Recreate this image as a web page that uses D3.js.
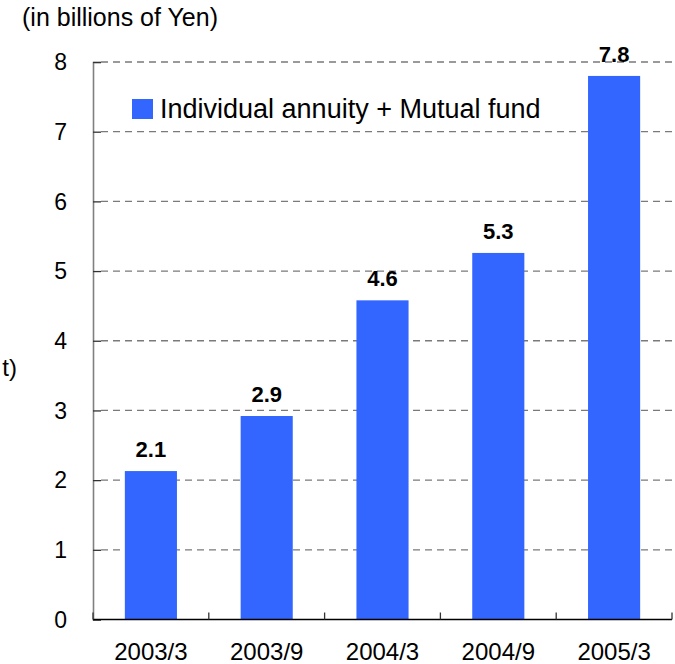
<!DOCTYPE html>
<html>
<head>
<meta charset="utf-8">
<script src="https://cdn.jsdelivr.net/npm/d3@7"></script>
<style>
  body { margin: 0; background: #fff; }
  text { font-family: "Liberation Sans", Arial, sans-serif; fill: #000; }
</style>
</head>
<body>
<div id="chart"></div>
<script>
// chart data
var categories = ["2003/3", "2003/9", "2004/3", "2004/9", "2005/3"];
var values     = [2.13, 2.92, 4.58, 5.26, 7.8];
var valueLabels = ["2.1", "2.9", "4.6", "5.3", "7.8"];
var yTicks     = [0, 1, 2, 3, 4, 5, 6, 7, 8];
var seriesName = "Individual annuity + Mutual fund";

var width = 675, height = 664;
var plotLeft = 93, plotRight = 672, plotTop = 62, plotBottom = 619.5;

var svg = d3.select("#chart").append("svg")
    .attr("width", width)
    .attr("height", height);

var x = d3.scaleBand().domain(categories).range([plotLeft, plotRight])
    .paddingInner(0.55).paddingOuter(0.275);
var xCell = d3.scaleBand().domain(categories).range([plotLeft, plotRight]);
var y = d3.scaleLinear().domain([0, 8]).range([plotBottom, plotTop]);

// dashed gridlines
svg.selectAll(".grid")
    .data(yTicks.filter(function(d) { return d > 0; }))
    .enter().append("line")
    .attr("x1", plotLeft + 8).attr("x2", plotRight)
    .attr("y1", function(d) { return y(d); })
    .attr("y2", function(d) { return y(d); })
    .attr("stroke", "#7a7a7a")
    .attr("stroke-width", 1.3)
    .attr("stroke-dasharray", "7,5");

// bars
svg.selectAll(".bar")
    .data(values)
    .enter().append("rect")
    .attr("x", function(d, i) { return x(categories[i]); })
    .attr("width", x.bandwidth())
    .attr("y", function(d) { return y(d); })
    .attr("height", function(d) { return y(0) - y(d); })
    .attr("fill", "#3366FF");

// value labels
svg.selectAll(".label")
    .data(values)
    .enter().append("text")
    .attr("x", function(d, i) { return x(categories[i]) + x.bandwidth() / 2; })
    .attr("y", function(d) { return y(d) - 14; })
    .attr("text-anchor", "middle")
    .style("font-size", "22px")
    .style("font-weight", "bold")
    .text(function(d, i) { return valueLabels[i]; });

// y axis
var yAxis = d3.axisRight(y).tickValues(yTicks).tickSize(8).tickFormat("");
var gy = svg.append("g")
    .attr("transform", "translate(" + plotLeft + ",0)")
    .call(yAxis);
gy.select(".domain").attr("stroke", "#808080").attr("stroke-width", 1.6);
gy.selectAll(".tick line").attr("stroke", "#333").attr("stroke-width", 1.3);

svg.selectAll(".ylab")
    .data(yTicks)
    .enter().append("text")
    .attr("x", 67)
    .attr("y", function(d) { return y(d); })
    .attr("dy", "0.36em")
    .attr("text-anchor", "end")
    .style("font-size", "23px")
    .text(function(d) { return d; });

// x axis
var xAxis = d3.axisBottom(x).tickSize(0).tickPadding(23);
var gx = svg.append("g")
    .attr("transform", "translate(0," + plotBottom + ")")
    .call(xAxis);
gx.select(".domain").remove();
gx.selectAll("text").style("font-size", "24px").attr("font-family", null);

svg.append("line")
    .attr("x1", plotLeft).attr("x2", plotRight)
    .attr("y1", plotBottom).attr("y2", plotBottom)
    .attr("stroke", "#000").attr("stroke-width", 1.6);

var bounds = categories.map(function(c) { return xCell(c); }).concat([plotRight]);
svg.selectAll(".xtick")
    .data(bounds)
    .enter().append("line")
    .attr("x1", function(d) { return d; })
    .attr("x2", function(d) { return d; })
    .attr("y1", plotBottom).attr("y2", plotBottom - 7)
    .attr("stroke", "#333").attr("stroke-width", 1.3);

// unit title
svg.append("text")
    .attr("x", 22).attr("y", 26)
    .style("font-size", "25px")
    .text("(in billions of Yen)");

// clipped fragment at left edge
svg.append("text")
    .attr("x", 17).attr("y", 376)
    .attr("text-anchor", "end")
    .style("font-size", "24px")
    .text("t)");

// legend
svg.append("rect")
    .attr("x", 132).attr("y", 99)
    .attr("width", 21).attr("height", 20)
    .attr("fill", "#3366FF");
svg.append("text")
    .attr("x", 160).attr("y", 118)
    .style("font-size", "27px")
    .text(seriesName);
</script>
</body>
</html>
